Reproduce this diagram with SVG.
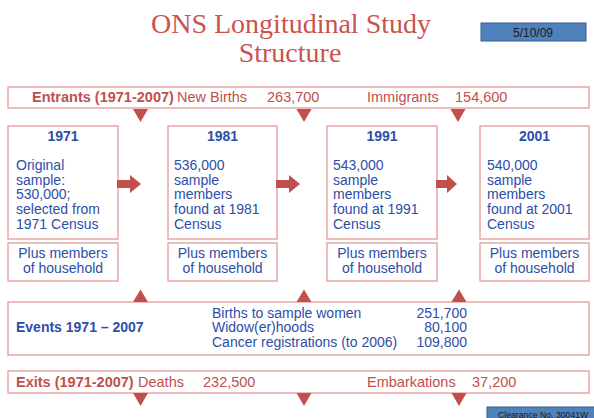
<svg xmlns="http://www.w3.org/2000/svg" width="594" height="418" viewBox="0 0 594 418">
<defs>
<style>
.bx{fill:#fff;stroke:#e8a7a5;stroke-width:1.5}
.tri{fill:#c0504d}
.t{font-family:"Liberation Sans",Arial,sans-serif;font-size:14px;fill:#2d4ea8}
.hd{font-weight:bold;text-anchor:middle}
.pl{text-anchor:middle}
.r{font-family:"Liberation Sans",Arial,sans-serif;font-size:14.5px;fill:#c0504d}
.rb{font-weight:bold}
.title{font-family:"Liberation Serif","Times New Roman",serif;font-size:28px;fill:#c9544f;text-anchor:middle}
.blue{fill:#4f81bd;stroke:#385d8a;stroke-width:1}
</style>
</defs>
<rect width="594" height="418" fill="#fff"/>
<g id="title">
<text class="title" x="291" y="33">ONS Longitudinal Study</text>
<text class="title" x="290" y="62">Structure</text>
</g>
<g id="date">
<rect class="blue" x="481" y="23" width="105" height="18"/>
<text x="533" y="36.5" font-family="Liberation Sans,Arial,sans-serif" font-size="12" fill="#1a1a1a" text-anchor="middle">5/10/09</text>
</g>
<g id="entrants">
<rect class="bx" x="8" y="87" width="581" height="21"/>
<text class="r" y="102"><tspan class="rb" x="32">Entrants (1971-2007)</tspan><tspan x="177">New Births</tspan><tspan x="267">263,700</tspan><tspan x="367">Immigrants</tspan><tspan x="455">154,600</tspan></text>
</g>
<g id="box1971">
<rect class="bx" x="8" y="126" width="110" height="113"/>
<text class="t hd" x="63" y="141">1971</text>
<text class="t" x="16" y="170">Original</text>
<text class="t" x="16" y="184.7">sample:</text>
<text class="t" x="16" y="199.4">530,000;</text>
<text class="t" x="16" y="214">selected from</text>
<text class="t" x="16" y="228.7">1971 Census</text>
</g>
<g id="box1981">
<rect class="bx" x="168" y="126" width="109" height="113"/>
<text class="t hd" x="222.5" y="141">1981</text>
<text class="t" x="174" y="170">536,000</text>
<text class="t" x="174" y="184.7">sample</text>
<text class="t" x="174" y="199.4">members</text>
<text class="t" x="174" y="214">found at 1981</text>
<text class="t" x="174" y="228.7">Census</text>
</g>
<g id="box1991">
<rect class="bx" x="327" y="126" width="110" height="113"/>
<text class="t hd" x="382" y="141">1991</text>
<text class="t" x="333" y="170">543,000</text>
<text class="t" x="333" y="184.7">sample</text>
<text class="t" x="333" y="199.4">members</text>
<text class="t" x="333" y="214">found at 1991</text>
<text class="t" x="333" y="228.7">Census</text>
</g>
<g id="box2001">
<rect class="bx" x="480" y="126" width="109" height="113"/>
<text class="t hd" x="534.5" y="141">2001</text>
<text class="t" x="487" y="170">540,000</text>
<text class="t" x="487" y="184.7">sample</text>
<text class="t" x="487" y="199.4">members</text>
<text class="t" x="487" y="214">found at 2001</text>
<text class="t" x="487" y="228.7">Census</text>
</g>
<g id="plus1971">
<rect class="bx" x="8" y="243" width="110" height="38"/>
<text class="t pl" x="63" y="257.5">Plus members</text>
<text class="t pl" x="63" y="272.5">of household</text>
</g>
<g id="plus1981">
<rect class="bx" x="168" y="243" width="109" height="38"/>
<text class="t pl" x="222.5" y="257.5">Plus members</text>
<text class="t pl" x="222.5" y="272.5">of household</text>
</g>
<g id="plus1991">
<rect class="bx" x="327" y="243" width="110" height="38"/>
<text class="t pl" x="382" y="257.5">Plus members</text>
<text class="t pl" x="382" y="272.5">of household</text>
</g>
<g id="plus2001">
<rect class="bx" x="480" y="243" width="109" height="38"/>
<text class="t pl" x="534.5" y="257.5">Plus members</text>
<text class="t pl" x="534.5" y="272.5">of household</text>
</g>
<g id="events">
<rect class="bx" x="8" y="302" width="581" height="53"/>
<text class="t rb" x="16" y="332" font-weight="bold">Events 1971 – 2007</text>
<text class="t" x="212" y="317.5">Births to sample women</text>
<text class="t" x="212" y="332">Widow(er)hoods</text>
<text class="t" x="212" y="346.5">Cancer registrations (to 2006)</text>
<text class="t" x="467" y="317.5" text-anchor="end">251,700</text>
<text class="t" x="467" y="332" text-anchor="end">80,100</text>
<text class="t" x="467" y="346.5" text-anchor="end">109,800</text>
</g>
<g id="exits">
<rect class="bx" x="8" y="371" width="581" height="22"/>
<text class="r" y="386.5"><tspan class="rb" x="16">Exits (1971-2007)</tspan><tspan x="138">Deaths</tspan><tspan x="203">232,500</tspan><tspan x="367">Embarkations</tspan><tspan x="472">37,200</tspan></text>
</g>
<g id="clearance">
<rect class="blue" x="487" y="407" width="112" height="16"/>
<text x="498" y="417.5" font-family="Liberation Sans,Arial,sans-serif" font-size="8.7" fill="#1a1a1a">Clearance No. 30041W</text>
</g>
<g id="connectors">
<polygon class="tri" points="133,109 148,109 140.5,122"/>
<polygon class="tri" points="296.5,109 311.5,109 304,122"/>
<polygon class="tri" points="450.5,109 465.5,109 458,122"/>
<polygon class="tri" points="117,180 130,180 130,175 141,184 130,193 130,188 117,188"/>
<polygon class="tri" points="276,180 289,180 289,175 300,184 289,193 289,188 276,188"/>
<polygon class="tri" points="436,180 447,180 447,175 457,184 447,193 447,188 436,188"/>
<polygon class="tri" points="133,302 148,302 140.5,289.5"/>
<polygon class="tri" points="296.5,302 311.5,302 304,289.5"/>
<polygon class="tri" points="451.5,302 466.5,302 459,289.5"/>
<polygon class="tri" points="133,393 148,393 140.5,406"/>
<polygon class="tri" points="296.5,393 311.5,393 304,406"/>
<polygon class="tri" points="451.5,393 466.5,393 459,406"/>
</g>
</svg>
